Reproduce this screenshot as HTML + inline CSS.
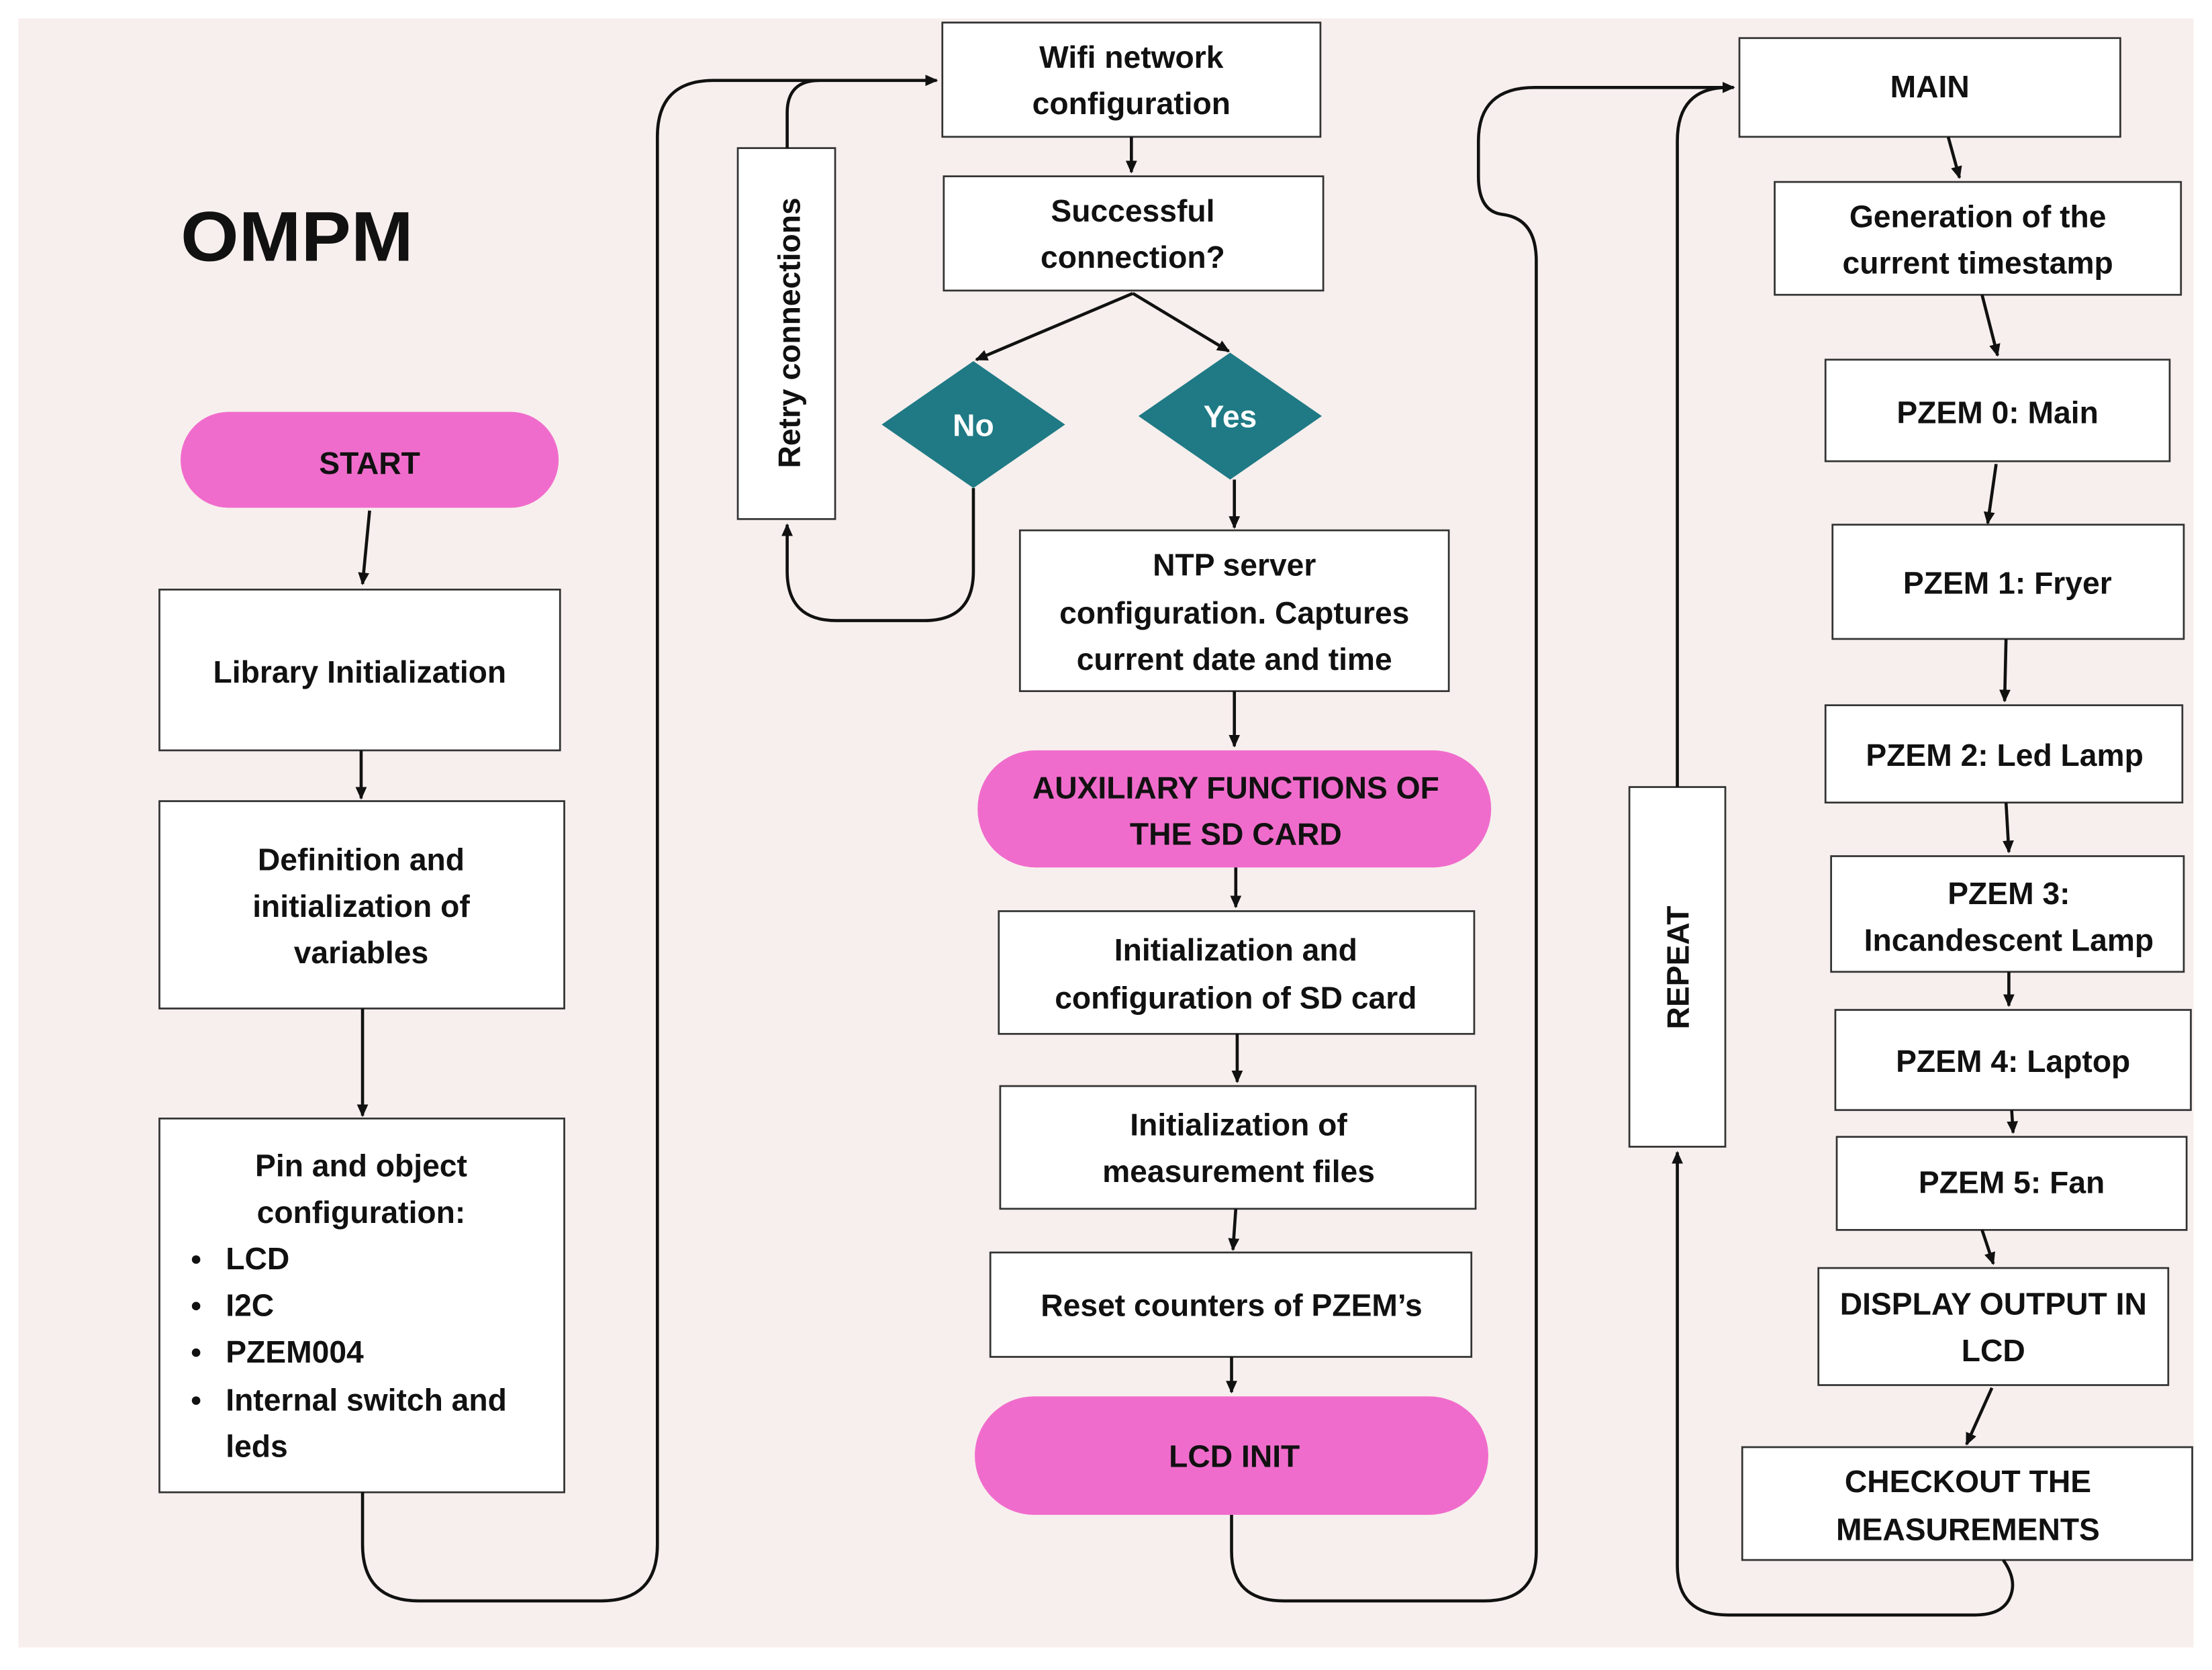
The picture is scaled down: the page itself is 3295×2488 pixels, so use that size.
<!DOCTYPE html>
<html><head><meta charset="utf-8"><style>
html,body{margin:0;padding:0;background:#fff;}
svg{display:block;}
text{font-family:"Liberation Sans",Arial,sans-serif;font-weight:bold;fill:#111;}
</style></head><body>
<svg width="3295" height="2488" viewBox="0 0 1568 1184" preserveAspectRatio="none" xmlns="http://www.w3.org/2000/svg">
<defs>
<marker id="a" markerWidth="10" markerHeight="10" refX="8" refY="5" orient="auto" markerUnits="userSpaceOnUse">
<path d="M0,1 L9,5 L0,9 Z" fill="#111"/>
</marker>
</defs>
<rect x="13" y="13" width="1542" height="1155" fill="#f7efed"/>
<g fill="#fff" stroke="#333" stroke-width="1.3">
<rect x="113" y="418" width="284" height="114"/>
<rect x="113" y="568" width="287" height="147"/>
<rect x="113" y="793" width="287" height="265"/>
<rect x="523" y="105" width="69" height="263"/>
<rect x="668" y="16" width="268" height="81"/>
<rect x="669" y="125" width="269" height="81"/>
<rect x="723" y="376" width="304" height="114"/>
<rect x="708" y="646" width="337" height="87"/>
<rect x="709" y="770" width="337" height="87"/>
<rect x="702" y="888" width="341" height="74"/>
<rect x="1233" y="27" width="270" height="70"/>
<rect x="1258" y="129" width="288" height="80"/>
<rect x="1294" y="255" width="244" height="72"/>
<rect x="1299" y="372" width="249" height="81"/>
<rect x="1294" y="500" width="253" height="69"/>
<rect x="1298" y="607" width="250" height="82"/>
<rect x="1301" y="716" width="252" height="71"/>
<rect x="1302" y="806" width="248" height="66"/>
<rect x="1289" y="899" width="248" height="83"/>
<rect x="1235" y="1026" width="319" height="80"/>
<rect x="1155" y="558" width="68" height="255"/>
</g>
<g fill="#f06ccc">
<rect x="128" y="292" width="268" height="68" rx="34"/>
<rect x="693" y="532" width="364" height="83" rx="41"/>
<rect x="691" y="990" width="364" height="84" rx="42"/>
</g>
<g fill="#1f7a85">
<polygon points="690,256 755,301 690,346 625,301"/>
<polygon points="872,250 937,295 872,340 807,295"/>
</g>
<g fill="none" stroke="#111" stroke-width="2.2">
<line x1="262" y1="362" x2="257" y2="414" marker-end="url(#a)"/>
<line x1="256" y1="532" x2="256" y2="566" marker-end="url(#a)"/>
<line x1="257" y1="715" x2="257" y2="791" marker-end="url(#a)"/>
<path d="M257,1058 V1095 Q257,1135 297,1135 H426 Q466,1135 466,1095 V97 Q466,57 506,57 H664" marker-end="url(#a)"/>
<path d="M558,105 V80 Q558,57 581,57"/>
<path d="M690,346 V405 Q690,440 655,440 H593 Q558,440 558,405 V372" marker-end="url(#a)"/>
<line x1="802" y1="97" x2="802" y2="122" marker-end="url(#a)"/>
<line x1="803" y1="208" x2="692" y2="255" marker-end="url(#a)"/>
<line x1="803" y1="208" x2="871" y2="249" marker-end="url(#a)"/>
<line x1="875" y1="340" x2="875" y2="374" marker-end="url(#a)"/>
<line x1="875" y1="490" x2="875" y2="529" marker-end="url(#a)"/>
<line x1="876" y1="615" x2="876" y2="643" marker-end="url(#a)"/>
<line x1="877" y1="733" x2="877" y2="767" marker-end="url(#a)"/>
<line x1="876" y1="857" x2="874" y2="886" marker-end="url(#a)"/>
<line x1="873" y1="962" x2="873" y2="987" marker-end="url(#a)"/>
<path d="M873,1074 V1100 Q873,1135 910,1135 H1052 Q1089,1135 1089,1100 V185 Q1089,155 1065,152 Q1048,150 1048,125 V100 Q1048,62 1088,62 H1229" marker-end="url(#a)"/>
<path d="M1189,558 V100 Q1189,62 1225,62"/>
<line x1="1381" y1="97" x2="1389" y2="126" marker-end="url(#a)"/>
<line x1="1405" y1="209" x2="1416" y2="252" marker-end="url(#a)"/>
<line x1="1415" y1="329" x2="1409" y2="371" marker-end="url(#a)"/>
<line x1="1422" y1="453" x2="1421" y2="497" marker-end="url(#a)"/>
<line x1="1422" y1="569" x2="1424" y2="604" marker-end="url(#a)"/>
<line x1="1424" y1="689" x2="1424" y2="713" marker-end="url(#a)"/>
<line x1="1426" y1="787" x2="1427" y2="803" marker-end="url(#a)"/>
<line x1="1405" y1="872" x2="1413" y2="896" marker-end="url(#a)"/>
<line x1="1412" y1="984" x2="1394" y2="1024" marker-end="url(#a)"/>
<path d="M1420,1106 Q1430,1120 1425,1132 Q1420,1145 1400,1145 H1225 Q1189,1145 1189,1110 V817" marker-end="url(#a)"/>
</g>
<text x="128" y="185" font-size="50" textLength="165" lengthAdjust="spacingAndGlyphs">OMPM</text>
<g font-size="22" text-anchor="middle">
<text x="262" y="336">START</text>
<text x="255" y="484">Library Initialization</text>
<text x="256" y="617">Definition and</text>
<text x="256" y="650">initialization of</text>
<text x="256" y="683">variables</text>
<text x="256" y="834">Pin and object</text>
<text x="256" y="867">configuration:</text>
<text x="802" y="48">Wifi network</text>
<text x="802" y="81">configuration</text>
<text x="803" y="157">Successful</text>
<text x="803" y="190">connection?</text>
<text x="875" y="408">NTP server</text>
<text x="875" y="442">configuration. Captures</text>
<text x="875" y="475">current date and time</text>
<text x="876" y="566">AUXILIARY FUNCTIONS OF</text>
<text x="876" y="599">THE SD CARD</text>
<text x="876" y="681">Initialization and</text>
<text x="876" y="715">configuration of SD card</text>
<text x="878" y="805">Initialization of</text>
<text x="878" y="838">measurement files</text>
<text x="873" y="933">Reset counters of PZEM’s</text>
<text x="875" y="1040">LCD INIT</text>
<text x="1368" y="69">MAIN</text>
<text x="1402" y="161">Generation of the</text>
<text x="1402" y="194">current timestamp</text>
<text x="1416" y="300">PZEM 0: Main</text>
<text x="1423" y="421">PZEM 1: Fryer</text>
<text x="1421" y="543">PZEM 2: Led Lamp</text>
<text x="1424" y="641">PZEM 3:</text>
<text x="1424" y="674">Incandescent Lamp</text>
<text x="1427" y="760">PZEM 4: Laptop</text>
<text x="1426" y="846">PZEM 5: Fan</text>
<text x="1413" y="932">DISPLAY OUTPUT IN</text>
<text x="1413" y="965">LCD</text>
<text x="1395" y="1058">CHECKOUT THE</text>
<text x="1395" y="1092">MEASUREMENTS</text>
<text x="690" y="309" style="fill:#fff">No</text>
<text x="872" y="303" style="fill:#fff">Yes</text>
<text transform="translate(567,236) rotate(-90)">Retry connections</text>
<text transform="translate(1197,686) rotate(-90)">REPEAT</text>
</g>
<g font-size="22">
<text x="160" y="900">LCD</text>
<text x="160" y="933">I2C</text>
<text x="160" y="966">PZEM004</text>
<text x="160" y="1000">Internal switch and</text>
<text x="160" y="1033">leds</text>
</g>
<g fill="#111">
<circle cx="139" cy="893" r="3"/>
<circle cx="139" cy="926" r="3"/>
<circle cx="139" cy="959" r="3"/>
<circle cx="139" cy="993" r="3"/>
</g>
</svg>
</body></html>
